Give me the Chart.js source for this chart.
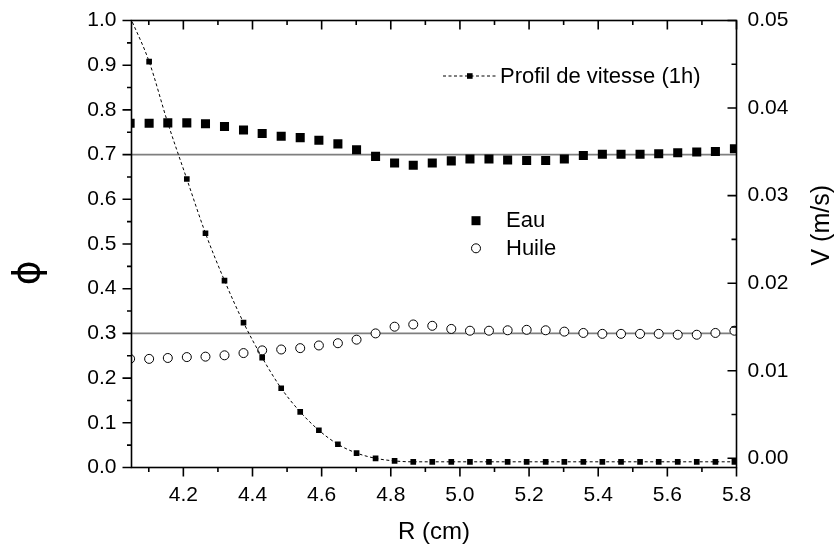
<!DOCTYPE html>
<html>
<head>
<meta charset="utf-8">
<script src="https://cdn.jsdelivr.net/npm/chart.js@4.4.0/dist/chart.umd.min.js"></script>
<style>
body { margin: 0; background: #fff; }
#wrap { width: 834px; height: 546px; }
</style>
</head>
<body>
<div id="wrap"><canvas id="profilChart" width="834" height="546"></canvas></div>
<script>
// rayon (cm)
var R = [4.046, 4.101, 4.155, 4.210, 4.264, 4.319, 4.374, 4.428, 4.483, 4.538, 4.592,
	4.647, 4.701, 4.756, 4.811, 4.865, 4.920, 4.975, 5.029, 5.084, 5.138, 5.193,
	5.248, 5.302, 5.357, 5.412, 5.466, 5.521, 5.575, 5.630, 5.685, 5.739, 5.794];

// fraction d'eau
var eau = [0.770, 0.770, 0.771, 0.771, 0.769, 0.763, 0.755, 0.747, 0.741, 0.738, 0.732,
	0.724, 0.711, 0.696, 0.681, 0.676, 0.681, 0.686, 0.690, 0.690, 0.688, 0.687,
	0.687, 0.690, 0.698, 0.701, 0.701, 0.701, 0.702, 0.704, 0.706, 0.707, 0.713];

// fraction d'huile
var huile = [0.243, 0.243, 0.245, 0.247, 0.248, 0.251, 0.256, 0.262, 0.264, 0.267, 0.273,
	0.278, 0.286, 0.300, 0.315, 0.320, 0.317, 0.310, 0.306, 0.306, 0.307, 0.308,
	0.307, 0.304, 0.301, 0.299, 0.299, 0.299, 0.299, 0.297, 0.297, 0.301, 0.306];

// profil de vitesse (m/s)
var vitesse = [0.0504, 0.0453, 0.0383, 0.0319, 0.0257, 0.0203, 0.0155, 0.0115, 0.0080, 0.0053, 0.0032,
	0.0016, 0.0006, 0.0000, -0.0003, -0.0004, -0.0004, -0.0004, -0.0004, -0.0004, -0.0004, -0.0004,
	-0.0004, -0.0004, -0.0004, -0.0004, -0.0004, -0.0004, -0.0004, -0.0004, -0.0004, -0.0004, -0.0004];

var refLines = [0.7, 0.3];
var xRange = [4.05, 5.8];
var phiRange = [0, 1];
var vRange = [-0.00105, 0.05];

var FONT = 'Arial, "Liberation Sans", sans-serif';

function pts(ys){
	return R.map(function(r, i){ return {x: r, y: ys[i]}; });
}

// cadre + graduations (majeures et mineures)
var frameTicks = {
	id: 'frameTicks',
	afterDraw: function(chart){
		var ctx = chart.ctx, a = chart.chartArea;
		var sx = chart.scales.x, sy = chart.scales.y, sv = chart.scales.y2;
		ctx.save();
		ctx.strokeStyle = '#000';
		ctx.lineWidth = 1.6;
		ctx.strokeRect(a.left, a.top, a.right - a.left, a.bottom - a.top);
		ctx.beginPath();
		function each(scale, step, fn){
			scale.ticks.forEach(function(t, i){
				fn(t.value, true);
				if (t.value - step / 2 >= scale.min) fn(t.value - step / 2, false);
				if (i == scale.ticks.length - 1 && t.value + step / 2 <= scale.max) fn(t.value + step / 2, false);
			});
		}
		each(sx, 0.2, function(v, major){
			var p = sx.getPixelForValue(v);
			ctx.moveTo(p, a.bottom); ctx.lineTo(p, a.bottom + (major ? 9 : 4.5));
			ctx.moveTo(p, a.top); ctx.lineTo(p, a.top + (major ? 9 : 4.5));
		});
		each(sy, 0.1, function(v, major){
			var p = sy.getPixelForValue(v);
			ctx.moveTo(a.left, p); ctx.lineTo(a.left - (major ? 9 : 4.5), p);
		});
		each(sv, 0.01, function(v, major){
			var p = sv.getPixelForValue(v);
			ctx.moveTo(a.right, p); ctx.lineTo(a.right - (major ? 9 : 5), p);
		});
		ctx.stroke();

		// titres des axes verticaux
		ctx.fillStyle = '#000';
		ctx.textAlign = 'center';
		ctx.textBaseline = 'middle';
		ctx.save();
		ctx.translate(29, 272.7);
		ctx.rotate(-Math.PI / 2);
		ctx.font = '38px "DejaVu Sans", sans-serif';
		ctx.fillText('ϕ', 0, 0);
		ctx.restore();
		ctx.save();
		ctx.translate(822, a.top + (a.bottom - a.top) * 0.458);
		ctx.rotate(-Math.PI / 2);
		ctx.font = '25px ' + FONT;
		ctx.fillText('V (m/s)', 0, 0);
		ctx.restore();
		ctx.restore();
	}
};

// legendes
var legends = {
	id: 'legends',
	afterDraw: function(chart){
		var ctx = chart.ctx;
		var ds = chart.data.datasets;
		ctx.save();
		ctx.font = '22px ' + FONT;
		ctx.fillStyle = '#000';
		ctx.textBaseline = 'middle';
		ctx.textAlign = 'left';

		// vitesse
		ctx.strokeStyle = ds[0].borderColor;
		ctx.lineWidth = ds[0].borderWidth;
		ctx.setLineDash(ds[0].borderDash);
		ctx.beginPath();
		ctx.moveTo(443, 76); ctx.lineTo(497, 76);
		ctx.stroke();
		ctx.setLineDash([]);
		ctx.fillRect(467, 73.2, 5.6, 5.6);
		ctx.fillText(ds[0].label, 500, 76.5);

		// eau
		ctx.fillRect(471.5, 216.2, 9, 9);
		ctx.fillText(ds[1].label, 506, 221);

		// huile
		ctx.beginPath();
		ctx.arc(476, 248.3, 4.5, 0, Math.PI * 2);
		ctx.fillStyle = '#fff';
		ctx.fill();
		ctx.strokeStyle = '#000';
		ctx.lineWidth = 1;
		ctx.stroke();
		ctx.fillStyle = '#000';
		ctx.fillText(ds[2].label, 506, 248.5);
		ctx.restore();
	}
};

var refData = refLines.map(function(v){
	return {
		label: 'ref ' + v,
		data: [{x: xRange[0], y: v}, {x: xRange[1], y: v}],
		showLine: true,
		borderColor: '#7f7f7f',
		borderWidth: 1.6,
		pointRadius: 0,
		yAxisID: 'y'
	};
});

var ctx = document.getElementById('profilChart');
var chart = new Chart(ctx, {
	type: 'scatter',
	data: {
		datasets: [
		{
			label: 'Profil de vitesse (1h)',
			data: pts(vitesse),
			yAxisID: 'y2',
			showLine: true,
			cubicInterpolationMode: 'monotone',
			borderColor: '#000',
			borderWidth: 1,
			borderDash: [3, 2.5],
			pointStyle: 'rect',
			pointRadius: 4,
			pointBorderWidth: 0,
			backgroundColor: '#000'
		},
		{
			label: 'Eau',
			data: pts(eau),
			yAxisID: 'y',
			pointStyle: 'rect',
			pointRadius: 6.4,
			pointBorderWidth: 0,
			backgroundColor: '#000'
		},
		{
			label: 'Huile',
			data: pts(huile),
			yAxisID: 'y',
			pointStyle: 'circle',
			pointRadius: 4.5,
			pointBorderWidth: 1,
			borderColor: '#000',
			backgroundColor: '#fff'
		}
		].concat(refData)
	},
	options: {
		responsive: false,
		animation: false,
		layout: { padding: { top: 20.5, left: 0, right: 0, bottom: 0 } },
		plugins: {
			legend: { display: false },
			tooltip: { enabled: false }
		},
		scales: {
			x: {
				type: 'linear',
				min: xRange[0],
				max: xRange[1],
				afterFit: function(s){ s.height = 78.5; },
				grid: { display: false },
				border: { display: false },
				ticks: {
					stepSize: 0.2,
					includeBounds: false,
					autoSkip: false,
					maxRotation: 0,
					padding: 7,
					color: '#000',
					font: { family: FONT, size: 21 },
					callback: function(v){ return v.toFixed(1); }
				},
				title: {
					display: true,
					text: 'R (cm)',
					color: '#000',
					font: { family: FONT, size: 24 },
					padding: { top: 0, bottom: -1 }
				}
			},
			y: {
				position: 'left',
				min: phiRange[0],
				max: phiRange[1],
				afterFit: function(s){ s.width = 131.5; },
				grid: { display: false },
				border: { display: false },
				ticks: {
					stepSize: 0.1,
					padding: 7,
					color: '#000',
					font: { family: FONT, size: 21 },
					callback: function(v){ return v.toFixed(1); }
				}
			},
			y2: {
				position: 'right',
				min: vRange[0],
				max: vRange[1],
				afterFit: function(s){ s.width = 97.5; },
				grid: { display: false },
				border: { display: false },
				ticks: {
					stepSize: 0.01,
					includeBounds: false,
					padding: 3,
					color: '#000',
					font: { family: FONT, size: 21 },
					callback: function(v){ return v.toFixed(2); }
				}
			}
		}
	},
	plugins: [frameTicks, legends]
});
</script>
</body>
</html>
